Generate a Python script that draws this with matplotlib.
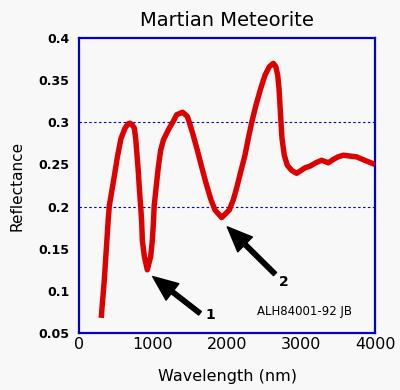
import matplotlib
matplotlib.use("Agg")
import matplotlib.pyplot as plt

# Spectrum
wavelength = [300, 342, 396, 410, 450, 486, 523, 568, 622, 660, 689, 720, 748, 766,
              784, 802, 815, 833, 847, 856, 883, 923, 969, 991, 1005, 1016, 1045,
              1072, 1104, 1140, 1207, 1266, 1320, 1401, 1464, 1491, 1536, 1599, 1658,
              1716, 1784, 1838, 1928, 2031, 2085, 2130, 2180, 2243, 2288, 2333, 2392,
              2455, 2514, 2572, 2626, 2660, 2685, 2703, 2716, 2730, 2743, 2774, 2815,
              2874, 2941, 3054, 3122, 3200, 3279, 3369, 3437, 3500, 3572, 3660, 3752,
              3887, 4000]
reflectance = [0.068, 0.113, 0.186, 0.201, 0.222, 0.241, 0.261, 0.281, 0.293, 0.298,
               0.299, 0.297, 0.293, 0.281, 0.261, 0.241, 0.222, 0.201, 0.182, 0.160,
               0.141, 0.125, 0.141, 0.160, 0.180, 0.201, 0.225, 0.247, 0.267, 0.279,
               0.291, 0.300, 0.309, 0.312, 0.307, 0.300, 0.287, 0.267, 0.247, 0.228,
               0.208, 0.196, 0.187, 0.196, 0.208, 0.222, 0.2395, 0.261, 0.281, 0.2995,
               0.3205, 0.340, 0.356, 0.366, 0.370, 0.366, 0.356, 0.340, 0.3205, 0.2995,
               0.281, 0.261, 0.249, 0.243, 0.2395, 0.246, 0.248, 0.252, 0.255, 0.252,
               0.256, 0.259, 0.261, 0.260, 0.259, 0.254, 0.250]

x_ticks = [0, 1000, 2000, 3000, 4000]
y_ticks = [0.05, 0.1, 0.15, 0.2, 0.25, 0.3, 0.35, 0.4]
y_tick_labels = ["0.05", "0.1", "0.15", "0.2", "0.25", "0.3", "0.35", "0.4"]
grid_levels = [0.2, 0.3]

title = "Martian Meteorite"
x_label = "Wavelength (nm)"
y_label = "Reflectance"
note = "ALH84001-92 JB"

arrow_labels = ["1", "2"]
arrow_tips = [(996, 0.117), (2004, 0.176)]
arrow_tails = [(1635, 0.0735), (2649, 0.120)]
arrow_text_pos = [(1770, 0.071), (2770, 0.111)]
note_pos = (3041, 0.076)

bg = "#f8f8f8"
blue = "#0000cc"

fig = plt.figure(figsize=(4.0, 3.9), dpi=100, facecolor=bg)
ax = fig.add_axes([0.1975, 0.146, 0.74, 0.7565], facecolor=bg)

for lvl in grid_levels:
    ax.axhline(lvl, color=blue, lw=0.8, linestyle=(0, (2.2, 2.2)), zorder=1)

ax.plot(wavelength, reflectance, color="#dd0000", lw=3.9, zorder=3,
        solid_joinstyle="round", solid_capstyle="butt")

ax.set_xlim(0, 4000)
ax.set_ylim(0.05, 0.4)
ax.set_xticks(x_ticks)
ax.set_xticklabels([str(t) for t in x_ticks], fontsize=11.5)
ax.set_yticks(y_ticks)
ax.set_yticklabels(y_tick_labels, fontsize=9, fontweight="bold")
ax.tick_params(axis="both", length=0)
ax.tick_params(axis="y", pad=7)
ax.tick_params(axis="x", pad=3)

for s in ax.spines.values():
    s.set_color(blue)
    s.set_linewidth(1.6)

ax.set_title(title, fontsize=14, pad=9)
ax.set_xlabel(x_label, fontsize=11.5, labelpad=12)
ax.set_ylabel(y_label, fontsize=11, labelpad=10)

for lab, tip, tail, tpos in zip(arrow_labels, arrow_tips, arrow_tails, arrow_text_pos):
    ax.annotate("", xy=tip, xytext=tail,
                arrowprops=dict(facecolor="black", edgecolor="black", width=3.2,
                                headwidth=15, headlength=18, shrink=0), zorder=4)
    ax.text(tpos[0], tpos[1], lab, fontsize=10, fontweight="bold",
            ha="center", va="center")

ax.text(note_pos[0], note_pos[1], note, fontsize=8.5, ha="center", va="center")

fig.savefig("out.png", dpi=100, facecolor=bg)
